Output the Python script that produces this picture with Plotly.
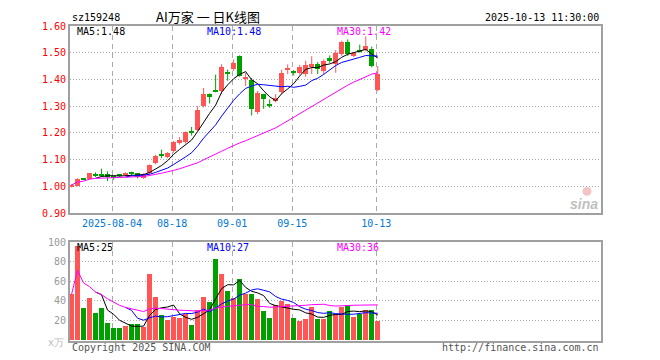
import plotly.graph_objects as go
import pandas as pd

# ---------------- data ----------------
symbol = "sz159248"
chart_title = "AI万家 一 日K线图"
stamp = "2025-10-13 11:30:00"

open_ = [0.999, 1.003, 1.028, 1.028, 1.045, 1.042, 1.045, 1.036, 1.042, 1.043,
         1.050, 1.048, 1.032, 1.048, 1.086, 1.119, 1.108, 1.134, 1.163, 1.167,
         1.205, 1.210, 1.302, 1.346, 1.358, 1.355, 1.428, 1.438, 1.488, 1.400,
         1.399, 1.277, 1.344, 1.307, 1.318, 1.352, 1.436, 1.431, 1.425, 1.420,
         1.447, 1.459, 1.432, 1.480, 1.457, 1.494, 1.540, 1.488, 1.510, 1.512,
         1.515, 1.360]
high = [1.008, 1.030, 1.030, 1.050, 1.052, 1.066, 1.056, 1.038, 1.046, 1.052,
        1.055, 1.050, 1.049, 1.082, 1.118, 1.137, 1.128, 1.170, 1.184, 1.205,
        1.222, 1.300, 1.368, 1.348, 1.418, 1.457, 1.437, 1.475, 1.490, 1.425,
        1.405, 1.357, 1.346, 1.325, 1.345, 1.437, 1.456, 1.435, 1.455, 1.470,
        1.487, 1.465, 1.475, 1.490, 1.510, 1.545, 1.550, 1.502, 1.530, 1.561,
        1.523, 1.450]
low = [0.996, 1.000, 1.024, 1.026, 1.035, 1.037, 1.020, 1.025, 1.036, 1.040,
       1.042, 1.030, 1.028, 1.045, 1.082, 1.105, 1.105, 1.126, 1.156, 1.160,
       1.190, 1.205, 1.295, 1.310, 1.352, 1.345, 1.395, 1.432, 1.410, 1.375,
       1.265, 1.270, 1.290, 1.294, 1.315, 1.345, 1.420, 1.415, 1.418, 1.410,
       1.420, 1.420, 1.420, 1.462, 1.425, 1.488, 1.488, 1.484, 1.500, 1.505,
       1.445, 1.356]
close = [1.005, 1.027, 1.026, 1.049, 1.042, 1.040, 1.038, 1.032, 1.040, 1.050,
         1.047, 1.035, 1.047, 1.079, 1.113, 1.116, 1.124, 1.165, 1.173, 1.202,
         1.202, 1.284, 1.345, 1.333, 1.355, 1.445, 1.420, 1.461, 1.413, 1.408,
         1.290, 1.349, 1.326, 1.303, 1.332, 1.424, 1.438, 1.423, 1.448, 1.455,
         1.458, 1.438, 1.470, 1.469, 1.498, 1.540, 1.494, 1.498, 1.505, 1.526,
         1.452, 1.420]
volume = [46.5, 96, 33, 43, 27, 33, 17, 12, 12, 14,
          16, 16, 13, 67, 44, 25, 20, 23, 22, 26,
          15, 30, 44, 39, 83, 67, 50, 43, 62, 47,
          47, 42, 29, 22, 36, 40, 37, 22, 19, 21,
          34, 21, 21, 29, 26, 34, 36, 23, 26, 30,
          30, 19]

tick_idx = [7, 17, 27, 37, 51]
tick_labels = ["2025-08-04", "08-18", "09-01", "09-15", "10-13"]
price_ticks = [0.90, 1.00, 1.10, 1.20, 1.30, 1.40, 1.50, 1.60]
vol_ticks = [20, 40, 60, 80, 100]
price_ma_labels = ["MA5:1.48", "MA10:1.48", "MA30:1.42"]
vol_ma_labels = ["MA5:25", "MA10:27", "MA30:36"]

# ---------------- styles ----------------
RED = "#ff5555"
GREEN = "#00a000"
MA_COLORS = ["#000000", "#0000ff", "#ff00ff"]
GRID = "#aaaaaa"
FRAME = "#a0a0a0"
MONO = "DejaVu Sans Mono"

# page is rendered with the default 8px body margin -> compensate
OFF = 8
W, H = 660 - OFF, 360 - OFF
FRAME_L, FRAME_R, FRAME_T, FRAME_B = 70, 601, 21, 341   # page pixels
L, R = FRAME_L - OFF, W - (FRAME_R - OFF)
T, B = FRAME_T - OFF, H - (FRAME_B - OFF)
PW, PH = W - L - R, H - T - B


def px(x):
    return (x - OFF - L) / PW


def py(y):
    return (H - B - (y - OFF)) / PH


n = len(close)
idx = list(range(n))
df = pd.DataFrame({"o": open_, "h": high, "l": low, "c": close, "v": volume})
up = df["c"] >= df["o"]
colors = [RED if u else GREEN for u in up]

ma_c = [df["c"].rolling(5).mean(), df["c"].rolling(10).mean(),
        df["c"].rolling(30, min_periods=1).mean()]
ma_v = [df["v"].rolling(5).mean(), df["v"].rolling(10).mean(),
        df["v"].rolling(30, min_periods=1).mean()]

body_lo = [min(o, c) for o, c in zip(open_, close)]
body_h = [max(abs(c - o), 0.0035) for o, c in zip(open_, close)]

fig = go.Figure()

# wicks
for col, flag in ((RED, True), (GREEN, False)):
    wx, wy = [], []
    for i in idx:
        if bool(up[i]) == flag:
            wx += [i, i, None]
            wy += [low[i], high[i], None]
    fig.add_trace(go.Scatter(x=wx, y=wy, mode="lines", line=dict(color=col, width=1),
                             hoverinfo="skip", xaxis="x", yaxis="y"))

# bodies
fig.add_trace(go.Bar(x=idx, y=body_h, base=body_lo, width=0.8,
                     marker=dict(color=colors, line=dict(width=0)),
                     xaxis="x", yaxis="y"))

# price MAs
for s, col in zip(ma_c, MA_COLORS):
    fig.add_trace(go.Scatter(x=idx, y=s, mode="lines", line=dict(color=col, width=1),
                             xaxis="x", yaxis="y"))

# volume bars
fig.add_trace(go.Bar(x=idx, y=volume, width=0.8,
                     marker=dict(color=colors, line=dict(width=0)),
                     xaxis="x2", yaxis="y2"))
for s, col in zip(ma_v, MA_COLORS):
    fig.add_trace(go.Scatter(x=idx, y=s, mode="lines", line=dict(color=col, width=1),
                             xaxis="x2", yaxis="y2"))

xr = [-0.25, 88.17]
gridx = [t - 0.25 for t in tick_idx]

common_x = dict(range=xr, showline=True, mirror=True, linecolor=FRAME, linewidth=2,
                showgrid=True, gridcolor=GRID, griddash="5px,4px", gridwidth=1,
                tickvals=gridx, zeroline=False, ticks="", fixedrange=True)

fig.update_layout(
    width=W, height=H, margin=dict(l=L, r=R, t=T, b=B),
    paper_bgcolor="white", plot_bgcolor="white",
    showlegend=False, barmode="overlay", bargap=0,
    xaxis=dict(**common_x, domain=[0, 1], anchor="y", ticktext=tick_labels,
               tickfont=dict(family=MONO, size=10, color="#0078d7")),
    xaxis2=dict(**common_x, domain=[0, 1], anchor="y2", showticklabels=False),
    yaxis=dict(domain=[py(211), 1], range=[0.90, 1.60], tickvals=price_ticks,
               ticktext=[f"{v:.2f}" for v in price_ticks],
               tickfont=dict(family=MONO, size=10, color="#ff0000"),
               showline=True, mirror=True, linecolor=FRAME, linewidth=2,
               showgrid=True, gridcolor=GRID, griddash="1px,2px", gridwidth=1,
               zeroline=False, ticks="", fixedrange=True),
    yaxis2=dict(domain=[0, py(240.7)], range=[-1, 100], tickvals=vol_ticks,
                tickfont=dict(family=MONO, size=10, color="#999999"),
                showline=True, mirror=True, linecolor=FRAME, linewidth=2,
                showgrid=True, gridcolor=GRID, griddash="1px,2px", gridwidth=1,
                zeroline=False, ticks="", fixedrange=True),
)

ann = []


def text(x, y, s, anchor="left", color="#000000", size=10, family=MONO, h=None):
    a = dict(x=px(x), y=py(y), xref="paper", yref="paper", text=s,
             showarrow=False, xanchor=anchor, yanchor="middle",
             font=dict(family=family, size=size, color=color))
    if h:
        a["height"] = h
    ann.append(a)


text(70, 12, symbol, size=10, h=12)
text(208, 11, chart_title, anchor="center", size=13, family="Noto Sans CJK SC", h=17)
text(601, 12, stamp, anchor="right", size=10, h=12)
for lab, x0, col in zip(price_ma_labels, [75, 205, 335], MA_COLORS):
    text(x0, 26.5, lab, color=col, h=12)
for lab, x0, col in zip(vol_ma_labels, [75, 205, 335], MA_COLORS):
    text(x0, 246, lab, color=col, h=12)
text(66, 342, "x万", anchor="right", color="#bbbbbb", size=10, h=12)
text(70, 347, "Copyright 2025 SINA.COM", color="#555555", h=12)
text(601, 347, "http://finance.sina.com.cn", anchor="right", color="#555555", h=12)
text(600, 202, "<b><i>sina</i></b>", anchor="right", color="#c0c0c0", size=14,
     family="Liberation Sans", h=18)
fig.update_layout(annotations=ann)

# sina logo eye
fig.add_shape(type="circle", xref="paper", yref="paper",
              x0=px(582.5), x1=px(591.5), y0=py(193.5), y1=py(184.5),
              fillcolor="#f2c4c4", line=dict(width=0))

fig.write_html("out.html")
